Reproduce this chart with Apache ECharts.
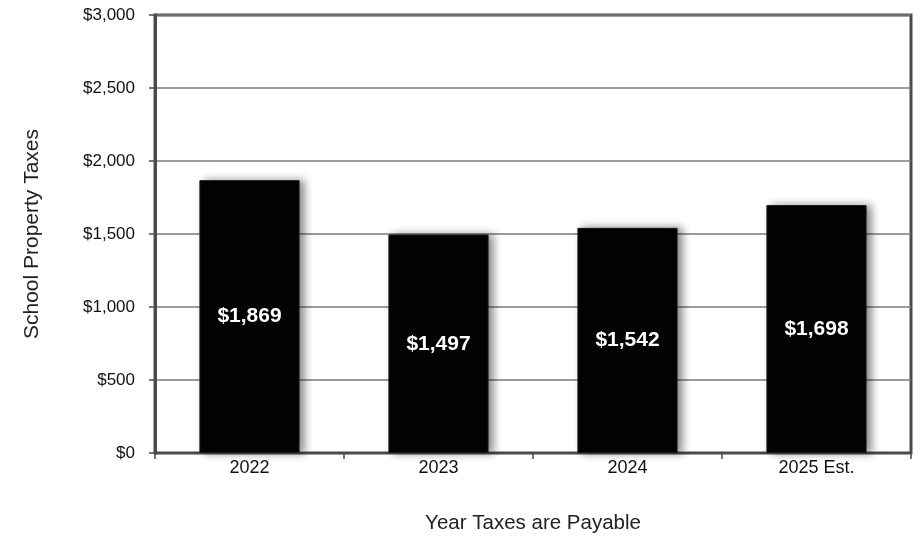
<!DOCTYPE html>
<html>
<head>
<meta charset="utf-8">
<script src="https://cdn.jsdelivr.net/npm/echarts@6/dist/echarts.min.js"></script>
<style>
html,body{margin:0;padding:0;background:#fff;}
#c{width:921px;height:538px;}
</style>
</head>
<body>
<div id="c"></div>
<script>
const categories = ['2022', '2023', '2024', '2025 Est.'];
const taxes = [1869, 1497, 1542, 1698];
const yTicks = [0, 500, 1000, 1500, 2000, 2500, 3000];

const FONT = "'Liberation Sans Narrow', 'Arial Narrow', 'Liberation Sans', Arial, sans-serif";
const fmt = v => '$' + v.toLocaleString('en-US');

const chart = echarts.init(document.getElementById('c'));
chart.setOption({
  animation: false,
  backgroundColor: '#ffffff',
  grid: {
    left: 155, right: 10, top: 15, bottom: 85,
    outerBoundsMode: 'none',
    containLabel: false,
    show: true, borderColor: '#4a4a4a', borderWidth: 3, backgroundColor: 'transparent'
  },
  xAxis: {
    type: 'category',
    data: categories,
    name: 'Year Taxes are Payable',
    nameLocation: 'middle',
    nameGap: 60,
    nameTextStyle: { fontFamily: FONT, fontSize: 20.5, color: '#222' },
    axisLine: { lineStyle: { color: '#4a4a4a', width: 2 } },
    axisTick: { show: true, alignWithLabel: false, length: 6, lineStyle: { color: '#4a4a4a', width: 1.5 } },
    axisLabel: { fontFamily: FONT, fontSize: 18, color: '#111', margin: 6 }
  },
  yAxis: {
    type: 'value',
    min: yTicks[0],
    max: yTicks[yTicks.length - 1],
    interval: 500,
    name: 'School Property Taxes',
    nameLocation: 'middle',
    nameGap: 112,
    nameTextStyle: { fontFamily: FONT, fontSize: 21, color: '#222' },
    axisLine: { show: true, lineStyle: { color: '#4a4a4a', width: 3 } },
    axisTick: { show: true, length: 6, lineStyle: { color: '#4a4a4a', width: 1.5 } },
    axisLabel: { fontFamily: FONT, fontSize: 17, color: '#111', margin: 20, formatter: fmt },
    splitLine: { lineStyle: { color: '#7a7a7a', width: 1.5 } }
  },
  series: [{
    type: 'bar',
    data: taxes,
    barWidth: '53%',
    itemStyle: {
      color: '#030303',
      borderColor: '#1a1a1a',
      borderWidth: 1,
      shadowColor: 'rgba(0,0,0,0.45)',
      shadowBlur: 8,
      shadowOffsetX: 5,
      shadowOffsetY: 0
    },
    label: {
      show: true,
      position: 'inside',
      formatter: p => fmt(p.value),
      fontFamily: FONT,
      fontSize: 21,
      fontWeight: 'bold',
      color: '#ffffff'
    }
  }]
});
</script>
</body>
</html>
